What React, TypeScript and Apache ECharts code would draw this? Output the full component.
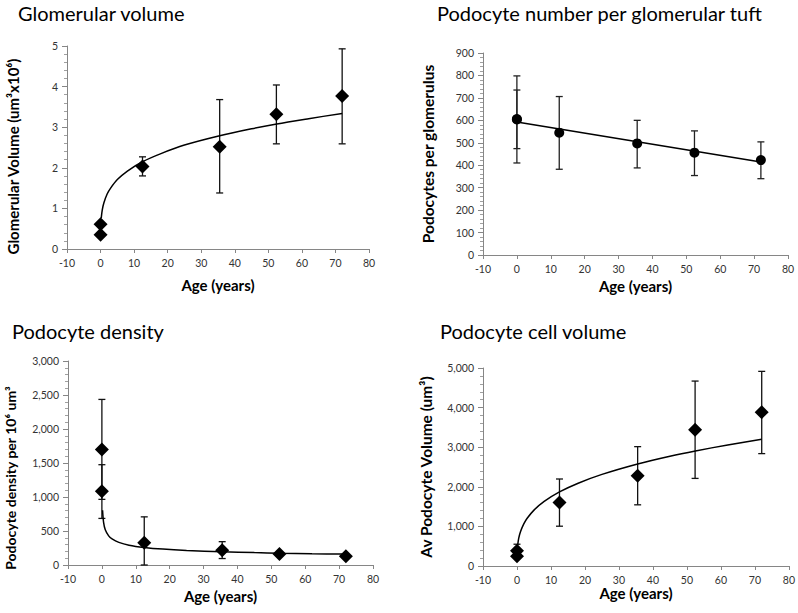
import React, { useEffect, useRef } from "react";
import * as echarts from "echarts";

// ---- data ----
const ages = [0, 0, 12.5, 35.5, 52.4, 72];

const glomVolume = [0.61, 0.35, 2.03, 2.52, 3.32, 3.77];
const glomLow = [null, null, 1.8, 1.38, 2.59, 2.59];
const glomHigh = [null, null, 2.27, 3.68, 4.04, 4.93];

const podNumber = [604, 606, 545, 497, 456, 423];
const podNumLow = [410, 474, 382, 388, 354, 340];
const podNumHigh = [798, 735, 706, 600, 553, 504];

const podDensity = [1700, 1085, 328, 218, 162, 128];
const podDensLow = [965, 685, 0, 95, null, null];
const podDensHigh = [2435, 1475, 708, 343, null, null];

const cellVolume = [385, 245, 1605, 2280, 3440, 3885];
const cellVolLow = [215, null, 1005, 1545, 2212, 2838];
const cellVolHigh = [550, null, 2197, 3014, 4670, 4915];

// trend lines
const trendAges = [0.2, 0.5, 1, 2, 3, 5, 8, 12.5, 18, 25, 35.5, 45, 52.5, 62, 72];
const trendGlom = [0.76, 0.96, 1.14, 1.36, 1.5, 1.71, 1.92, 2.15, 2.35, 2.56, 2.79, 2.96, 3.08, 3.21, 3.34];
const trendDensity = [806, 627, 518, 428, 383, 333, 292, 259, 234, 214, 194, 182, 174, 166, 160];
const trendCellVol = [525, 696, 861, 1065, 1206, 1411, 1630, 1870, 2090, 2313, 2576, 2771, 2905, 3057, 3200];
const trendPodAges = [0, 72];
const trendPodNumber = [593, 414];

const titles = [
  "Glomerular volume",
  "Podocyte number per glomerular tuft",
  "Podocyte density",
  "Podocyte cell volume",
];
const yNames = [
  "Glomerular Volume (um³x10⁶)",
  "Podocytes per glomerulus",
  "Podocyte density per 10⁶ um³",
  "Av Podocyte Volume (um³)",
];
const xName = "Age (years)";
const yMax = [5, 900, 3000, 5000];
const yInterval = [1, 100, 500, 1000];

const FONT = "Lato, 'Open Sans', sans-serif";
const AXIS_COLOR = "#868686";

function pairs(xs: number[], ys: (number | null)[]) {
  return xs.map((x, i) => [x, ys[i]]);
}

function errData(xs: number[], lows: (number | null)[], highs: (number | null)[]) {
  const out: number[][] = [];
  xs.forEach((x, i) => {
    if (lows[i] != null && highs[i] != null) out.push([x, lows[i] as number, highs[i] as number]);
  });
  return out;
}

function errorSeries(idx: number, data: number[][], color: string) {
  return {
    type: "custom",
    xAxisIndex: idx,
    yAxisIndex: idx,
    silent: true,
    z: 2,
    data,
    renderItem: (params: any, api: any) => {
      const x = api.value(0);
      const lo = api.coord([x, api.value(1)]);
      const hi = api.coord([x, api.value(2)]);
      const w = 3.5;
      const style = { stroke: color, lineWidth: 1.3 };
      return {
        type: "group",
        children: [
          { type: "line", shape: { x1: lo[0], y1: lo[1], x2: hi[0], y2: hi[1] }, style },
          { type: "line", shape: { x1: hi[0] - w, y1: hi[1], x2: hi[0] + w, y2: hi[1] }, style },
          { type: "line", shape: { x1: lo[0] - w, y1: lo[1], x2: lo[0] + w, y2: lo[1] }, style },
        ],
      };
    },
  };
}

function lineSeries(idx: number, xs: number[], ys: number[]) {
  return {
    type: "line",
    xAxisIndex: idx,
    yAxisIndex: idx,
    data: pairs(xs, ys),
    symbol: "none",
    smooth: 0.3,
    silent: true,
    z: 3,
    lineStyle: { color: "#000", width: 1.5 },
  };
}

function markerSeries(idx: number, xs: number[], ys: number[], symbol: string, size: number) {
  return {
    type: "scatter",
    xAxisIndex: idx,
    yAxisIndex: idx,
    data: pairs(xs, ys),
    symbol,
    symbolSize: size,
    z: 4,
    itemStyle: { color: "#000", opacity: 1 },
  };
}

export default function App() {
  const ref = useRef<HTMLDivElement>(null);

  useEffect(() => {
    if (!ref.current) return;
    const chart = echarts.init(ref.current, null, { renderer: "svg" });

    const grids = [
      { left: 67, top: 46, width: 302, height: 203 },
      { left: 483, top: 53, width: 305, height: 202 },
      { left: 68, top: 361, width: 305, height: 204 },
      { left: 483, top: 368, width: 307, height: 198 },
    ];
    const titlePos = [
      { left: 18, top: 3 },
      { left: 437, top: 3 },
      { left: 12, top: 321 },
      { left: 440, top: 321 },
    ];
    const xNameGaps = [28, 23, 23, 19];
    const yNameGaps = [47, 47, 51, 49];
    const yNameSizes = [15, 15.5, 14, 15.5];
    const yNamePad = [
      [0, 18, 0, 0],
      [0, 0, 0, 0],
      [0, 30, 0, 0],
      [0, 0, 0, 0],
    ];

    const fmt = (v: number) => (v >= 1000 ? v.toLocaleString("en-US") : String(v));

    const option: any = {
      animation: false,
      backgroundColor: "#fff",
      title: titles.map((t, i) => ({
        text: t,
        ...titlePos[i],
        padding: 0,
        textStyle: { fontFamily: FONT, fontSize: 20, fontWeight: "normal", color: "#000" },
      })),
      grid: grids,
      xAxis: grids.map((_, i) => ({
        type: "value",
        gridIndex: i,
        min: -10,
        max: 80,
        interval: 10,
        name: xName,
        nameLocation: "middle",
        nameGap: xNameGaps[i],
        nameTextStyle: { fontFamily: FONT, fontSize: 15, fontWeight: "bold", color: "#000" },
        axisLine: { show: true, onZero: false, lineStyle: { color: AXIS_COLOR, width: 1 } },
        axisTick: { show: true, length: 4, lineStyle: { color: AXIS_COLOR } },
        axisLabel: { fontFamily: FONT, fontSize: 10.5, color: "#333", margin: 8 },
        splitLine: { show: false },
      })),
      yAxis: grids.map((_, i) => ({
        type: "value",
        gridIndex: i,
        min: 0,
        max: yMax[i],
        interval: yInterval[i],
        name: yNames[i],
        nameLocation: "middle",
        nameGap: yNameGaps[i],
        nameTextStyle: {
          fontFamily: FONT,
          fontSize: yNameSizes[i],
          fontWeight: "bold",
          color: "#000",
          padding: yNamePad[i],
        },
        axisLine: { show: true, onZero: false, lineStyle: { color: AXIS_COLOR, width: 1 } },
        axisTick: { show: true, length: 5, lineStyle: { color: AXIS_COLOR } },
        minorTick: { show: true, splitNumber: 5, length: 3, lineStyle: { color: "#a0a0a0" } },
        axisLabel: { fontFamily: FONT, fontSize: 10.5, color: "#333", margin: 9, formatter: fmt },
        splitLine: { show: false },
        minorSplitLine: { show: false },
      })),
      series: [
        errorSeries(0, errData(ages, glomLow, glomHigh), "#111"),
        lineSeries(0, trendAges, trendGlom),
        markerSeries(0, ages, glomVolume, "diamond", 14),

        errorSeries(1, errData(ages, podNumLow, podNumHigh), "#222"),
        lineSeries(1, trendPodAges, trendPodNumber),
        markerSeries(1, ages, podNumber, "circle", 10),

        errorSeries(2, errData(ages, podDensLow, podDensHigh), "#111"),
        lineSeries(2, trendAges, trendDensity),
        markerSeries(2, ages, podDensity, "diamond", 14),

        errorSeries(3, errData(ages, cellVolLow, cellVolHigh), "#111"),
        lineSeries(3, trendAges, trendCellVol),
        markerSeries(3, ages, cellVolume, "diamond", 14),
      ],
    };

    chart.setOption(option);
    return () => chart.dispose();
  }, []);

  return (
    <div
      ref={ref}
      style={{ position: "fixed", left: 0, top: 0, width: 798, height: 613, background: "#fff" }}
    />
  );
}
